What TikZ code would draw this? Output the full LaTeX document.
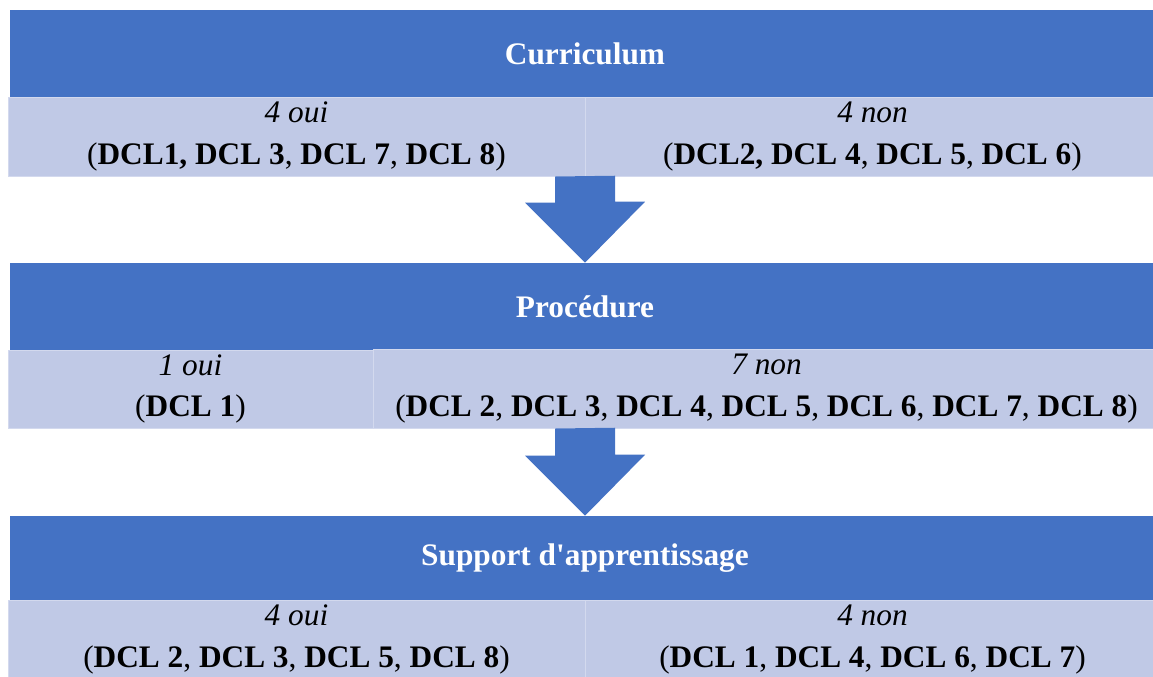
\documentclass[tikz,border=0pt]{standalone}
\usepackage{fontspec}
\setmainfont{Liberation Serif}
\usepackage{tikz}
\usetikzlibrary{calc,positioning}
\definecolor{barblue}{HTML}{4472C4}
\definecolor{cellblue}{HTML}{C0C9E6}
\definecolor{celledge}{HTML}{D3D9EE}

\begin{document}
\begin{tikzpicture}[
        x=0.75pt, y=-0.75pt,
        % Styles for the blocks
        titlebar/.style={rectangle, fill=barblue, text=white, font=\fontsize{23.5}{28}\selectfont\bfseries, minimum width=862.5pt, minimum height=65.25pt, inner sep=0pt},
        cell/.style={rectangle, fill=cellblue, draw=celledge, line width=0.75pt, text centered, align=center, font=\fontsize{23.5}{31}\selectfont, minimum height=59.25pt, inner sep=0pt},
        blockarrow/.style={fill=barblue}
    ]
        \useasboundingbox (0,0) rectangle (1153,676);

        % Curriculum
        \node[titlebar] (cur) at (585, 53.5) {Curriculum};
        \node[cell, minimum width=432.75pt] (curoui) at (296.5, 136.5) {\textit{4 oui}\\(\textbf{DCL1, DCL 3}, \textbf{DCL 7}, \textbf{DCL 8})};
        \node[cell, minimum width=431.25pt] (curnon) at (872.5, 136.5) {\textit{4 non}\\(\textbf{DCL2, DCL 4}, \textbf{DCL 5}, \textbf{DCL 6})};

        % Procedure
        \node[titlebar] (proc) at (585, 306.5) {Procédure};
        \node[cell, minimum width=273.75pt, minimum height=58.5pt] (procoui) at (190.5, 389) {\textit{1 oui}\\(\textbf{DCL 1})};
        \node[cell, minimum width=590.25pt] (procnon) at (766.5, 388.5) {\textit{7 non}\\(\textbf{DCL 2}, \textbf{DCL 3}, \textbf{DCL 4}, \textbf{DCL 5}, \textbf{DCL 6}, \textbf{DCL 7}, \textbf{DCL 8})};

        % Support
        \node[titlebar, minimum height=63pt] (supp) at (585, 558) {Support d\textquotesingle apprentissage};
        \node[cell, minimum width=432.75pt] (suppoui) at (296.5, 639.5) {\textit{4 oui}\\(\textbf{DCL 2}, \textbf{DCL 3}, \textbf{DCL 5}, \textbf{DCL 8})};
        \node[cell, minimum width=431.25pt] (suppnon) at (872.5, 639.5) {\textit{4 non}\\(\textbf{DCL 1}, \textbf{DCL 4}, \textbf{DCL 6}, \textbf{DCL 7})};

        % Block arrows
        \fill[blockarrow] (curoui.south -| cur.south) ++(-30,0) -- ++(0,26) -- ++(-30,0) -- (proc.north) -- ++(60,-61) -- ++(-30,0) -- ++(0,-26) -- cycle;
        \fill[blockarrow] (procoui.south -| proc.south) ++(-30,0) -- ++(0,27) -- ++(-30,0) -- (supp.north) -- ++(60,-61) -- ++(-30,0) -- ++(0,-27) -- cycle;

    \end{tikzpicture}
\end{document}
